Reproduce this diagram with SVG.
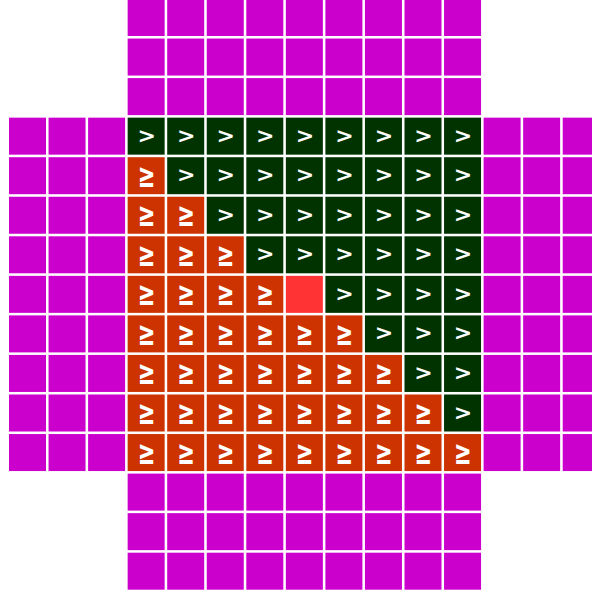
<svg xmlns="http://www.w3.org/2000/svg" xmlns:xlink="http://www.w3.org/1999/xlink" width="592" height="594" viewBox="0 0 592 594">
<style>
.t{font-family:"DejaVu Sans",sans-serif;font-weight:bold;fill:#fff;text-anchor:middle}
.gt{font-size:22px}
.ge{font-size:21px}
</style>
<defs>
<rect id="m" width="37" height="37" fill="#CC00CC"/>
<g id="g"><rect width="37" height="37" fill="#003300"/><text class="t gt" x="19" y="25">&gt;</text></g>
<g id="o"><rect width="37" height="37" fill="#CC3300"/><text class="t ge" transform="translate(18.8,29.5) scale(1,1.62)">≥</text></g>
<rect id="r" width="37" height="37" fill="#FF3333"/>
</defs>
<rect width="592" height="594" fill="#fff"/>
<g id="top">
<use href="#m" x="127.65" y="-1"/><use href="#m" x="167.2" y="-1"/><use href="#m" x="206.75" y="-1"/><use href="#m" x="246.3" y="-1"/><use href="#m" x="285.85" y="-1"/><use href="#m" x="325.4" y="-1"/><use href="#m" x="364.95" y="-1"/><use href="#m" x="404.5" y="-1"/><use href="#m" x="444.05" y="-1"/>
<use href="#m" x="127.65" y="38.55"/><use href="#m" x="167.2" y="38.55"/><use href="#m" x="206.75" y="38.55"/><use href="#m" x="246.3" y="38.55"/><use href="#m" x="285.85" y="38.55"/><use href="#m" x="325.4" y="38.55"/><use href="#m" x="364.95" y="38.55"/><use href="#m" x="404.5" y="38.55"/><use href="#m" x="444.05" y="38.55"/>
<use href="#m" x="127.65" y="78.1"/><use href="#m" x="167.2" y="78.1"/><use href="#m" x="206.75" y="78.1"/><use href="#m" x="246.3" y="78.1"/><use href="#m" x="285.85" y="78.1"/><use href="#m" x="325.4" y="78.1"/><use href="#m" x="364.95" y="78.1"/><use href="#m" x="404.5" y="78.1"/><use href="#m" x="444.05" y="78.1"/>
</g>
<g id="bottom">
<use href="#m" x="127.65" y="473.6"/><use href="#m" x="167.2" y="473.6"/><use href="#m" x="206.75" y="473.6"/><use href="#m" x="246.3" y="473.6"/><use href="#m" x="285.85" y="473.6"/><use href="#m" x="325.4" y="473.6"/><use href="#m" x="364.95" y="473.6"/><use href="#m" x="404.5" y="473.6"/><use href="#m" x="444.05" y="473.6"/>
<use href="#m" x="127.65" y="513.15"/><use href="#m" x="167.2" y="513.15"/><use href="#m" x="206.75" y="513.15"/><use href="#m" x="246.3" y="513.15"/><use href="#m" x="285.85" y="513.15"/><use href="#m" x="325.4" y="513.15"/><use href="#m" x="364.95" y="513.15"/><use href="#m" x="404.5" y="513.15"/><use href="#m" x="444.05" y="513.15"/>
<use href="#m" x="127.65" y="552.7"/><use href="#m" x="167.2" y="552.7"/><use href="#m" x="206.75" y="552.7"/><use href="#m" x="246.3" y="552.7"/><use href="#m" x="285.85" y="552.7"/><use href="#m" x="325.4" y="552.7"/><use href="#m" x="364.95" y="552.7"/><use href="#m" x="404.5" y="552.7"/><use href="#m" x="444.05" y="552.7"/>
</g>
<g id="left">
<use href="#m" x="9" y="117.65"/><use href="#m" x="48.55" y="117.65"/><use href="#m" x="88.1" y="117.65"/>
<use href="#m" x="9" y="157.2"/><use href="#m" x="48.55" y="157.2"/><use href="#m" x="88.1" y="157.2"/>
<use href="#m" x="9" y="196.75"/><use href="#m" x="48.55" y="196.75"/><use href="#m" x="88.1" y="196.75"/>
<use href="#m" x="9" y="236.3"/><use href="#m" x="48.55" y="236.3"/><use href="#m" x="88.1" y="236.3"/>
<use href="#m" x="9" y="275.85"/><use href="#m" x="48.55" y="275.85"/><use href="#m" x="88.1" y="275.85"/>
<use href="#m" x="9" y="315.4"/><use href="#m" x="48.55" y="315.4"/><use href="#m" x="88.1" y="315.4"/>
<use href="#m" x="9" y="354.95"/><use href="#m" x="48.55" y="354.95"/><use href="#m" x="88.1" y="354.95"/>
<use href="#m" x="9" y="394.5"/><use href="#m" x="48.55" y="394.5"/><use href="#m" x="88.1" y="394.5"/>
<use href="#m" x="9" y="434.05"/><use href="#m" x="48.55" y="434.05"/><use href="#m" x="88.1" y="434.05"/>
</g>
<g id="right">
<use href="#m" x="483.6" y="117.65"/><use href="#m" x="523.15" y="117.65"/><use href="#m" x="562.7" y="117.65"/>
<use href="#m" x="483.6" y="157.2"/><use href="#m" x="523.15" y="157.2"/><use href="#m" x="562.7" y="157.2"/>
<use href="#m" x="483.6" y="196.75"/><use href="#m" x="523.15" y="196.75"/><use href="#m" x="562.7" y="196.75"/>
<use href="#m" x="483.6" y="236.3"/><use href="#m" x="523.15" y="236.3"/><use href="#m" x="562.7" y="236.3"/>
<use href="#m" x="483.6" y="275.85"/><use href="#m" x="523.15" y="275.85"/><use href="#m" x="562.7" y="275.85"/>
<use href="#m" x="483.6" y="315.4"/><use href="#m" x="523.15" y="315.4"/><use href="#m" x="562.7" y="315.4"/>
<use href="#m" x="483.6" y="354.95"/><use href="#m" x="523.15" y="354.95"/><use href="#m" x="562.7" y="354.95"/>
<use href="#m" x="483.6" y="394.5"/><use href="#m" x="523.15" y="394.5"/><use href="#m" x="562.7" y="394.5"/>
<use href="#m" x="483.6" y="434.05"/><use href="#m" x="523.15" y="434.05"/><use href="#m" x="562.7" y="434.05"/>
</g>
<g id="inner">
<use href="#g" x="127.65" y="117.65"/><use href="#g" x="167.2" y="117.65"/><use href="#g" x="206.75" y="117.65"/><use href="#g" x="246.3" y="117.65"/><use href="#g" x="285.85" y="117.65"/><use href="#g" x="325.4" y="117.65"/><use href="#g" x="364.95" y="117.65"/><use href="#g" x="404.5" y="117.65"/><use href="#g" x="444.05" y="117.65"/>
<use href="#o" x="127.65" y="157.2"/><use href="#g" x="167.2" y="157.2"/><use href="#g" x="206.75" y="157.2"/><use href="#g" x="246.3" y="157.2"/><use href="#g" x="285.85" y="157.2"/><use href="#g" x="325.4" y="157.2"/><use href="#g" x="364.95" y="157.2"/><use href="#g" x="404.5" y="157.2"/><use href="#g" x="444.05" y="157.2"/>
<use href="#o" x="127.65" y="196.75"/><use href="#o" x="167.2" y="196.75"/><use href="#g" x="206.75" y="196.75"/><use href="#g" x="246.3" y="196.75"/><use href="#g" x="285.85" y="196.75"/><use href="#g" x="325.4" y="196.75"/><use href="#g" x="364.95" y="196.75"/><use href="#g" x="404.5" y="196.75"/><use href="#g" x="444.05" y="196.75"/>
<use href="#o" x="127.65" y="236.3"/><use href="#o" x="167.2" y="236.3"/><use href="#o" x="206.75" y="236.3"/><use href="#g" x="246.3" y="236.3"/><use href="#g" x="285.85" y="236.3"/><use href="#g" x="325.4" y="236.3"/><use href="#g" x="364.95" y="236.3"/><use href="#g" x="404.5" y="236.3"/><use href="#g" x="444.05" y="236.3"/>
<use href="#o" x="127.65" y="275.85"/><use href="#o" x="167.2" y="275.85"/><use href="#o" x="206.75" y="275.85"/><use href="#o" x="246.3" y="275.85"/><use href="#r" x="285.85" y="275.85"/><use href="#g" x="325.4" y="275.85"/><use href="#g" x="364.95" y="275.85"/><use href="#g" x="404.5" y="275.85"/><use href="#g" x="444.05" y="275.85"/>
<use href="#o" x="127.65" y="315.4"/><use href="#o" x="167.2" y="315.4"/><use href="#o" x="206.75" y="315.4"/><use href="#o" x="246.3" y="315.4"/><use href="#o" x="285.85" y="315.4"/><use href="#o" x="325.4" y="315.4"/><use href="#g" x="364.95" y="315.4"/><use href="#g" x="404.5" y="315.4"/><use href="#g" x="444.05" y="315.4"/>
<use href="#o" x="127.65" y="354.95"/><use href="#o" x="167.2" y="354.95"/><use href="#o" x="206.75" y="354.95"/><use href="#o" x="246.3" y="354.95"/><use href="#o" x="285.85" y="354.95"/><use href="#o" x="325.4" y="354.95"/><use href="#o" x="364.95" y="354.95"/><use href="#g" x="404.5" y="354.95"/><use href="#g" x="444.05" y="354.95"/>
<use href="#o" x="127.65" y="394.5"/><use href="#o" x="167.2" y="394.5"/><use href="#o" x="206.75" y="394.5"/><use href="#o" x="246.3" y="394.5"/><use href="#o" x="285.85" y="394.5"/><use href="#o" x="325.4" y="394.5"/><use href="#o" x="364.95" y="394.5"/><use href="#o" x="404.5" y="394.5"/><use href="#g" x="444.05" y="394.5"/>
<use href="#o" x="127.65" y="434.05"/><use href="#o" x="167.2" y="434.05"/><use href="#o" x="206.75" y="434.05"/><use href="#o" x="246.3" y="434.05"/><use href="#o" x="285.85" y="434.05"/><use href="#o" x="325.4" y="434.05"/><use href="#o" x="364.95" y="434.05"/><use href="#o" x="404.5" y="434.05"/><use href="#o" x="444.05" y="434.05"/>
</g>
</svg>
